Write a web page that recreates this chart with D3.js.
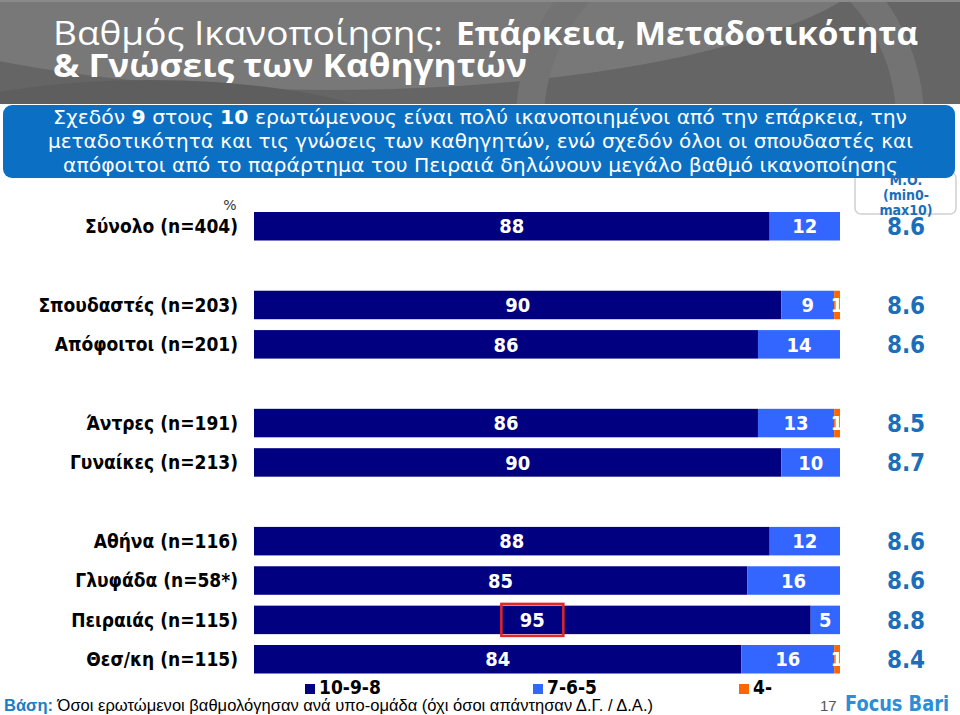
<!DOCTYPE html>
<html>
<head>
<meta charset="utf-8">
<script src="https://cdn.jsdelivr.net/npm/d3@7/dist/d3.min.js"></script>
<style>
  html, body { margin: 0; padding: 0; background: #fff; }
  svg { display: block; }
</style>
</head>
<body>
<svg id="chart" width="960" height="715"></svg>
<script>
// ---------------- DATA ----------------
const categories = ["Σύνολο (n=404)", "Σπουδαστές (n=203)", "Απόφοιτοι (n=201)",
  "Άντρες (n=191)", "Γυναίκες (n=213)",
  "Αθήνα (n=116)", "Γλυφάδα (n=58*)", "Πειραιάς (n=115)", "Θεσ/κη (n=115)"];
const groups = [0, 1, 1, 2, 2, 3, 3, 3, 3];
const seriesNames = ["10-9-8", "7-6-5", "4-"];
const high = [88, 90, 86, 86, 90, 88, 85, 95, 84];
const mid  = [12, 9, 14, 13, 10, 12, 16, 5, 16];
const low  = [0, 1, 0, 1, 0, 0, 0, 0, 1];
const means = ["8.6", "8.6", "8.6", "8.5", "8.7", "8.6", "8.6", "8.8", "8.4"];
const highlighted = ["Πειραιάς (n=115)"];
const titleRegular = "Βαθμός Ικανοποίησης:";
const titleBold1 = "Επάρκεια, Μεταδοτικότητα";
const titleBold2 = "& Γνώσεις των Καθηγητών";
const summaryLines = [
  [["Σχεδόν ", false], ["9", true], [" στους ", false], ["10", true], [" ερωτώμενους είναι πολύ ικανοποιημένοι από την επάρκεια, την", false]],
  [["μεταδοτικότητα και τις γνώσεις των καθηγητών, ενώ σχεδόν όλοι οι σπουδαστές και", false]],
  [["απόφοιτοι από το παράρτημα του Πειραιά δηλώνουν μεγάλο βαθμό ικανοποίησης", false]]
];
const meanHeader = ["Μ.Ο.", "(min0-", "max10)"];
const baseLabel = "Βάση:";
const baseText = " Όσοι ερωτώμενοι βαθμολόγησαν ανά υπο-ομάδα (όχι όσοι απάντησαν Δ.Γ. / Δ.Α.)";
const pageNumber = "17";
const logoText = "Focus Bari";

// ---------------- STYLE ----------------
const colors = ["#000080", "#3366ff", "#ff6600"];
const meanColor = "#1b6fba";
const condBold = "'DejaVu Sans Condensed', 'DejaVu Sans', sans-serif";

const svg = d3.select("#chart");

// ---------------- HEADER ----------------
const defs = svg.append("defs");
defs.append("clipPath").attr("id", "hdrclip")
  .append("rect").attr("x", 0).attr("y", 0).attr("width", 960).attr("height", 104);
const hdr = svg.append("g").attr("clip-path", "url(#hdrclip)");
hdr.append("rect").attr("x", 0).attr("y", 0).attr("width", 960).attr("height", 104).attr("fill", "#656565");
hdr.append("ellipse").attr("cx", 330).attr("cy", -60).attr("rx", 560).attr("ry", 150).attr("fill", "#787878");
hdr.append("ellipse").attr("cx", 150).attr("cy", 190).attr("rx", 330).attr("ry", 110).attr("fill", "#5e5e5e");
hdr.append("circle").attr("cx", 720).attr("cy", 120).attr("r", 190).attr("fill", "none")
  .attr("stroke", "#737373").attr("stroke-width", 28);
hdr.append("rect").attr("x", 0).attr("y", 0).attr("width", 960).attr("height", 2).attr("fill", "#8a8a8a");

const titleFont = "'Open Sans', 'DejaVu Sans', sans-serif";
hdr.append("text").attr("x", 53).attr("y", 45)
  .attr("font-family", titleFont).attr("font-size", 32)
  .attr("fill", "#fff").attr("textLength", 390).attr("lengthAdjust", "spacingAndGlyphs")
  .text(titleRegular);
hdr.append("text").attr("x", 456).attr("y", 45)
  .attr("font-family", titleFont).attr("font-size", 32).attr("font-weight", "bold")
  .attr("fill", "#fff").attr("textLength", 462).attr("lengthAdjust", "spacingAndGlyphs")
  .text(titleBold1);
hdr.append("text").attr("x", 53).attr("y", 77)
  .attr("font-family", titleFont).attr("font-size", 32).attr("font-weight", "bold")
  .attr("fill", "#fff").attr("textLength", 474).attr("lengthAdjust", "spacingAndGlyphs")
  .text(titleBold2);

// ---------------- MEAN HEADER BOX ----------------
svg.append("rect").attr("x", 855).attr("y", 172).attr("width", 101).attr("height", 42).attr("rx", 6)
  .attr("fill", "#fff").attr("stroke", "#d0d0d0").attr("stroke-width", 1.5);

// ---------------- SUMMARY BOX ----------------
svg.append("rect").attr("x", 3).attr("y", 105).attr("width", 952).attr("height", 73).attr("rx", 9)
  .attr("fill", "#0b6fc4");
const lineBaselines = [124, 148, 172];
const lineX = [[53, 907], [48, 913], [63, 898]];
summaryLines.forEach((parts, i) => {
  const t = svg.append("text").attr("x", lineX[i][0]).attr("y", lineBaselines[i])
    .attr("font-family", "'DejaVu Sans', sans-serif").attr("font-size", 20).attr("fill", "#fff")
    .attr("textLength", lineX[i][1] - lineX[i][0]).attr("lengthAdjust", "spacingAndGlyphs");
  parts.forEach(([s, b]) => t.append("tspan").attr("font-weight", b ? "bold" : "normal").text(s));
});

// mean header text (drawn over)
meanHeader.forEach((s, i) => {
  svg.append("text").attr("x", 906).attr("y", [185, 200, 215][i]).attr("text-anchor", "middle")
    .attr("font-family", condBold).attr("font-weight", "bold").attr("font-size", 14)
    .attr("fill", meanColor).text(s);
});

// ---------------- CHART ----------------
const slots = [];
categories.forEach((c, i) => {
  if (i > 0 && groups[i] !== groups[i - 1]) slots.push("__gap" + i);
  slots.push(c);
});
const y = d3.scaleBand().domain(slots).range([212, 673.5]).paddingInner(0.276).paddingOuter(0);
const x = d3.scaleLinear().domain([0, 100]).range([254, 840]);

const rows = categories.map((c, i) => {
  const vals = [high[i], mid[i], low[i]];
  const total = d3.sum(vals);
  let cum = 0;
  const segs = vals.map((v, k) => {
    const s = { cat: c, k, v, x0: cum / total * 100, x1: (cum + v) / total * 100 };
    cum += v;
    return s;
  });
  return { cat: c, segs, mean: means[i] };
});

const rowG = svg.append("g").selectAll("g").data(rows).join("g");

rowG.selectAll("rect.seg").data(d => d.segs.filter(s => s.v > 0)).join("rect")
  .attr("class", "seg")
  .attr("x", s => x(s.x0)).attr("width", s => x(s.x1) - x(s.x0))
  .attr("y", s => y(s.cat)).attr("height", y.bandwidth())
  .attr("fill", s => colors[s.k]);

rowG.selectAll("text.val").data(d => d.segs.filter(s => s.v > 0)).join("text")
  .attr("class", "val")
  .attr("x", s => (x(s.x0) + x(s.x1)) / 2)
  .attr("y", s => y(s.cat) + y.bandwidth() / 2)
  .attr("dy", "0.36em").attr("text-anchor", "middle")
  .attr("font-family", condBold).attr("font-weight", "bold").attr("font-size", 20)
  .attr("fill", "#fff").text(s => s.v);

// highlight box
rowG.filter(d => highlighted.includes(d.cat)).each(function(d) {
  const s = d.segs[0];
  const cx = (x(s.x0) + x(s.x1)) / 2, cy = y(d.cat) + y.bandwidth() / 2;
  d3.select(this).append("rect")
    .attr("x", cx - 31).attr("y", cy - 16).attr("width", 62).attr("height", 32)
    .attr("fill", "none").attr("stroke", "#e3262a").attr("stroke-width", 2.5);
});

// category labels
rowG.append("text")
  .attr("x", 238).attr("y", d => y(d.cat) + y.bandwidth() / 2).attr("dy", "0.36em")
  .attr("text-anchor", "end")
  .attr("font-family", condBold).attr("font-weight", "bold").attr("font-size", 19)
  .attr("fill", "#000").text(d => d.cat);

// means
rowG.append("text")
  .attr("x", 906).attr("y", d => y(d.cat) + y.bandwidth() / 2).attr("dy", "0.36em")
  .attr("text-anchor", "middle")
  .attr("font-family", condBold).attr("font-weight", "bold").attr("font-size", 24)
  .attr("fill", meanColor).text(d => d.mean);

// % label
svg.append("text").attr("x", 230).attr("y", 210).attr("text-anchor", "middle")
  .attr("font-family", "'DejaVu Sans', sans-serif").attr("font-size", 14).attr("fill", "#333").text("%");

// ---------------- LEGEND ----------------
const legendX = [305, 533, 739];
const lg = svg.append("g").selectAll("g").data(seriesNames).join("g")
  .attr("transform", (d, i) => `translate(${legendX[i]},0)`);
lg.append("rect").attr("x", 0).attr("y", 684).attr("width", 10).attr("height", 10)
  .attr("fill", (d, i) => colors[i]);
lg.append("text").attr("x", 14).attr("y", 694)
  .attr("font-family", condBold).attr("font-weight", "bold").attr("font-size", 19)
  .attr("fill", "#000").text(d => d);

// ---------------- FOOTER ----------------
const ft = svg.append("text").attr("x", 4).attr("y", 711)
  .attr("font-family", "'Liberation Sans', Arial, sans-serif").attr("font-size", 17)
  .attr("textLength", 649).attr("lengthAdjust", "spacingAndGlyphs");
ft.append("tspan").attr("font-weight", "bold").attr("fill", "#1c7cc5").text(baseLabel);
ft.append("tspan").attr("fill", "#000").text(baseText);

svg.append("text").attr("x", 820).attr("y", 711)
  .attr("font-family", "'Liberation Sans', Arial, sans-serif").attr("font-size", 15)
  .attr("fill", "#555").text(pageNumber);
svg.append("text").attr("x", 845).attr("y", 711)
  .attr("font-family", "'DejaVu Sans', sans-serif").attr("font-weight", "bold").attr("font-size", 21)
  .attr("fill", "#2a8ed8").attr("textLength", 104).attr("lengthAdjust", "spacingAndGlyphs")
  .text(logoText);
</script>
</body>
</html>
